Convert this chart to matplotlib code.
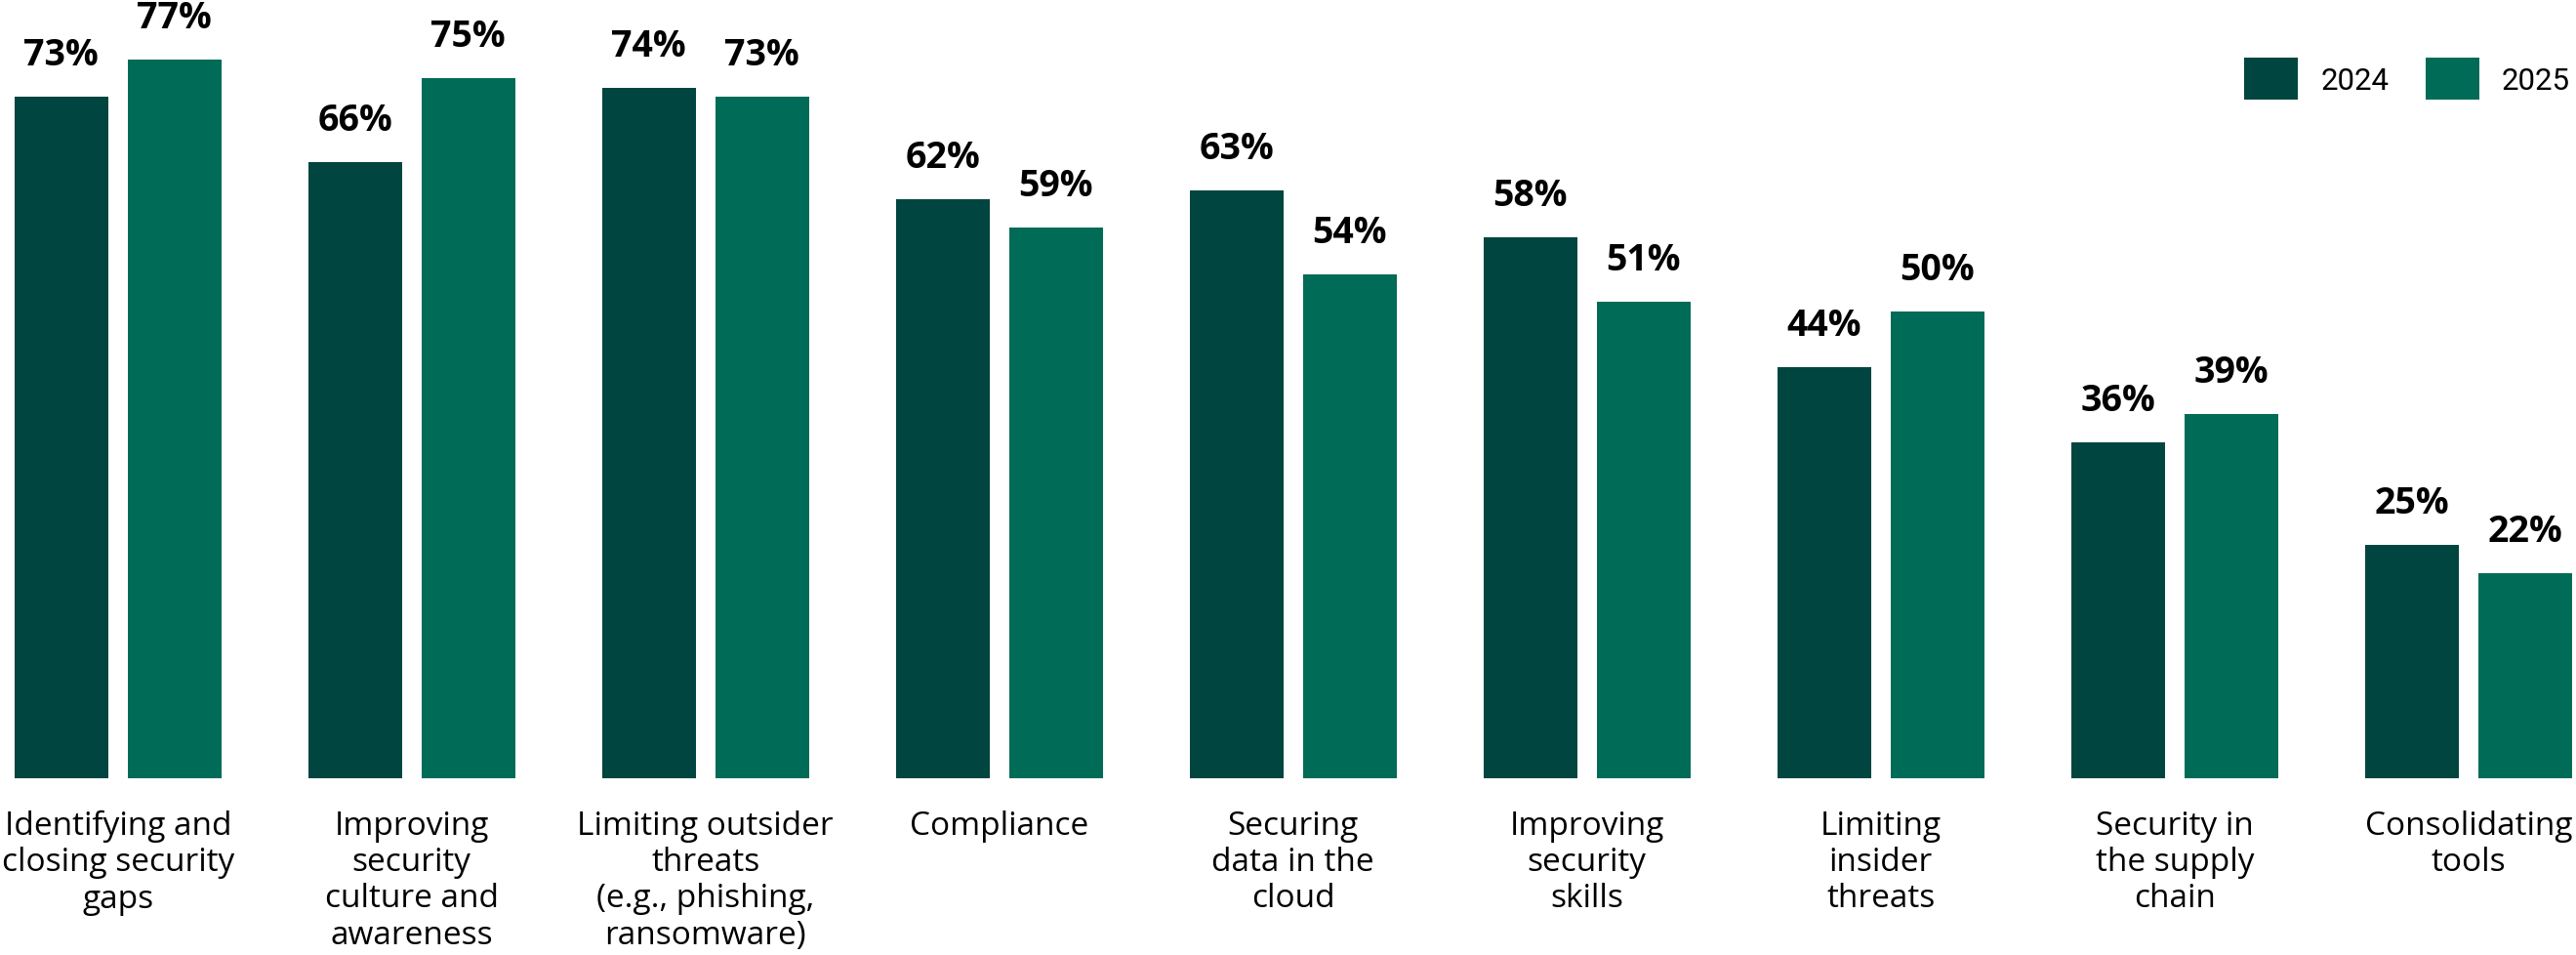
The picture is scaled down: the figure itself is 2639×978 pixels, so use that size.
import numpy as np
import matplotlib
matplotlib.use("Agg")
import matplotlib.pyplot as plt

categories = [
    "Identifying and\nclosing security\ngaps",
    "Improving\nsecurity\nculture and\nawareness",
    "Limiting outsider\nthreats\n(e.g., phishing,\nransomware)",
    "Compliance",
    "Securing\ndata in the\ncloud",
    "Improving\nsecurity\nskills",
    "Limiting\ninsider\nthreats",
    "Security in\nthe supply\nchain",
    "Consolidating\ntools",
]
vals_2024 = [73, 66, 74, 62, 63, 58, 44, 36, 25]
vals_2025 = [77, 75, 73, 59, 54, 51, 50, 39, 22]
years = ["2024", "2025"]

c2024 = "#00453F"
c2025 = "#006B56"

W, H = 2639, 979
dpi = 100
fig = plt.figure(figsize=(W / dpi, H / dpi), dpi=dpi)
ax = fig.add_axes([0, 0, 1, 1])

# pixel geometry
spacing = 301.0      # px between group centres
first = 120.8        # px, first group centre
bar_w = 96 / spacing
off = 58 / spacing
px_per = 9.56        # px per percent
base = 798           # baseline px from top

x = np.arange(len(categories))
ax.bar(x - off, vals_2024, bar_w, color=c2024, label=years[0])
ax.bar(x + off, vals_2025, bar_w, color=c2025, label=years[1])

ax.set_xlim(-first / spacing, (W - first) / spacing)
ax.set_ylim(-(H - base) / px_per, base / px_per)
ax.axis("off")

lab_font = ["Open Sans", "DejaVu Sans"]
for xi, v in zip(x - off, vals_2024):
    ax.text(xi, v + 33 / px_per, f"{v}%", ha="center", va="baseline",
            fontsize=27, fontweight="bold", family=lab_font)
for xi, v in zip(x + off, vals_2025):
    ax.text(xi, v + 33 / px_per, f"{v}%", ha="center", va="baseline",
            fontsize=27, fontweight="bold", family=lab_font)

for xi, c in zip(x, categories):
    ax.text(xi, -(830 - base) / px_per, c, ha="center", va="top",
            fontsize=24, family=lab_font, linespacing=1.17)

ax.legend(loc="upper right", bbox_to_anchor=(2633 / W, 1 - 60 / H),
          bbox_transform=fig.transFigure, ncol=2, frameon=False,
          prop={"family": "Roboto", "size": 22.5},
          handlelength=1.75, handleheight=1.75, handletextpad=0.75,
          columnspacing=1.2, borderpad=0, borderaxespad=0)

fig.savefig("out.png", dpi=dpi, facecolor="white")
